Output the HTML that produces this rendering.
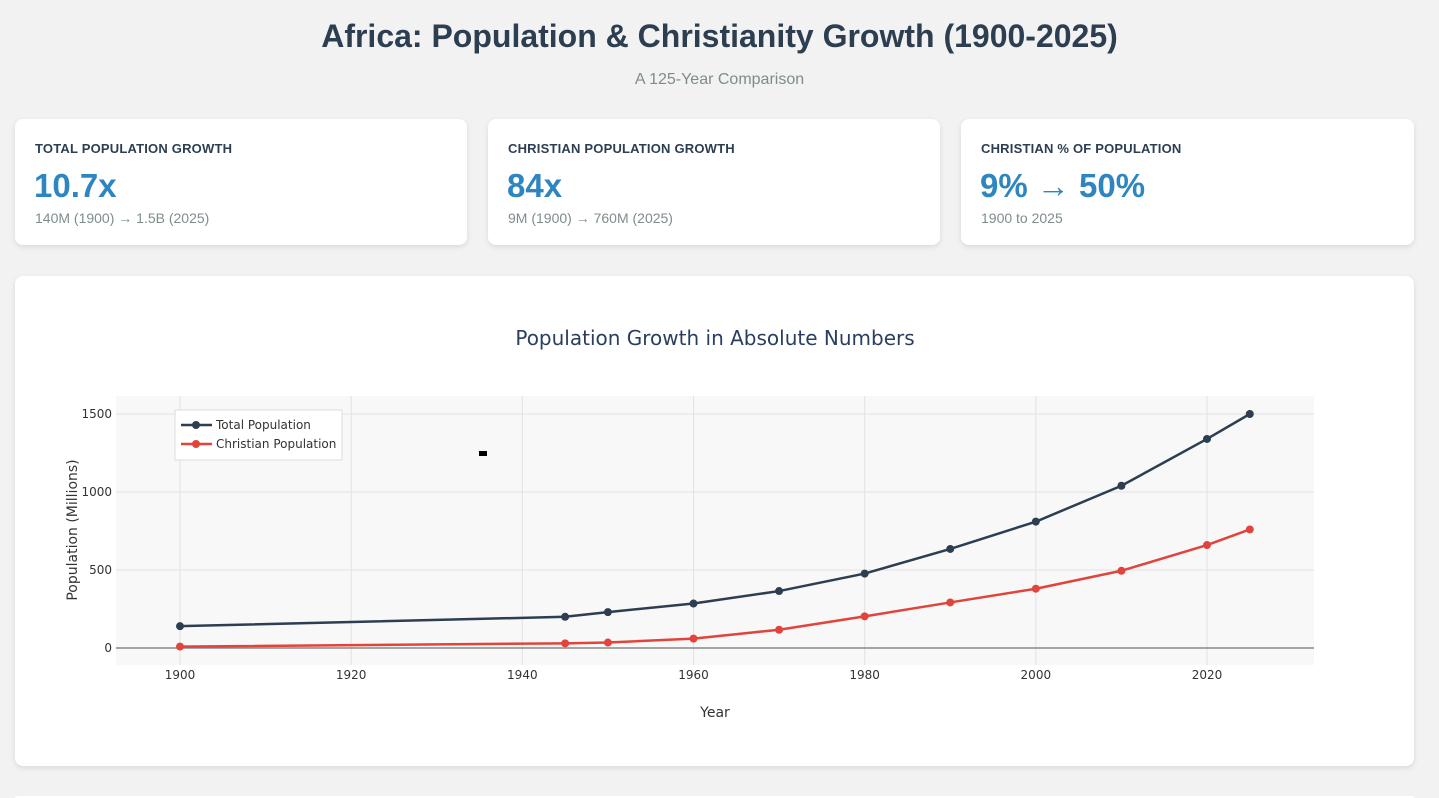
<!DOCTYPE html>
<html><head><meta charset="utf-8">
<style>
*{box-sizing:border-box;margin:0;padding:0}
html{overflow:hidden;width:1439px;height:798px}
body{width:1439px;height:798px;overflow:hidden;background:#f2f2f2;font-family:"Liberation Sans",sans-serif;color:#2c3e50;position:relative}
h1{position:absolute;top:18px;left:0;width:100%;text-align:center;font-size:32px;font-weight:bold;color:#2c3e50}
.sub{position:absolute;top:71px;left:0;width:100%;text-align:center;font-size:16px;color:#7f8c8d}
.card{position:absolute;top:119px;height:126px;background:#fff;border-radius:8px;box-shadow:0 2px 6px rgba(0,0,0,0.1);padding:0 20px}
.card .lbl{position:absolute;top:22px;left:20px;font-size:13px;font-weight:bold;color:#2c3e50;letter-spacing:0.2px}
.card .val{position:absolute;top:48px;left:19px;font-size:33px;font-weight:bold;color:#2e86c1}
.card .det{position:absolute;top:91px;left:20px;font-size:14px;color:#7f8c8d}
.chart{position:absolute;top:276px;left:15px;width:1399px;height:490px;background:#fff;border-radius:8px;box-shadow:0 2px 6px rgba(0,0,0,0.1)}
.next{position:absolute;top:796px;left:15px;width:1399px;height:2px;background:#fff;border-radius:8px 8px 0 0}
</style></head><body>
<h1>Africa: Population &amp; Christianity Growth (1900-2025)</h1>
<div class="sub">A 125-Year Comparison</div>
<div class="card" style="left:15px;width:452px">
<div class="lbl">TOTAL POPULATION GROWTH</div>
<div class="val">10.7x</div>
<div class="det">140M (1900) → 1.5B (2025)</div></div>
<div class="card" style="left:488px;width:452px">
<div class="lbl">CHRISTIAN POPULATION GROWTH</div>
<div class="val">84x</div>
<div class="det">9M (1900) → 760M (2025)</div></div>
<div class="card" style="left:961px;width:453px">
<div class="lbl">CHRISTIAN % OF POPULATION</div>
<div class="val">9% → 50%</div>
<div class="det">1900 to 2025</div></div>
<div class="chart"></div>
<div class="next"></div>
<svg id="svg" width="1439" height="798" style="position:absolute;left:0;top:0"></svg>
<script>
const years=[1900,1945,1950,1960,1970,1980,1990,2000,2010,2020,2025];
const totalPop=[140,200,230,285,365,477,635,810,1040,1340,1500];
const christianPop=[9,30,35,60,117,203,292,380,495,660,760];
const xTicks=[1900,1920,1940,1960,1980,2000,2020];
const yTicks=[0,500,1000,1500];
const NS="http://www.w3.org/2000/svg";
const svg=document.getElementById('svg');
const X=v=>180+(v-1900)*(1207-180)/120;
const Y=v=>648-v*(648-414)/1500;
function mk(t,a,p){const e=document.createElementNS(NS,t);for(const k in a)e.setAttribute(k,a[k]);(p||svg).appendChild(e);return e;}
let r=mk('rect',{x:116,y:396,width:1198,height:269,fill:'#f8f8f8'});


xTicks.forEach(t=>{
 let l=mk('line',{x1:X(t),x2:X(t),y1:396,y2:665,stroke:'#e2e2e2'});
 
 
 let tx=mk('text',{x:X(t),y:679,'text-anchor':'middle','font-size':12,fill:'#333','font-family':'DejaVu Sans'});
 tx.textContent=t;
 
 
});
yTicks.forEach(t=>{
 let l=mk('line',{x1:116,x2:1314,y1:Y(t),y2:Y(t),stroke:t===0?'#888':'#e2e2e2','stroke-width':t===0?1.5:1});
 
 
 let tx=mk('text',{x:112,y:Y(t)+4,'text-anchor':'end','font-size':12,fill:'#333','font-family':'DejaVu Sans'});
 tx.textContent=t;
 
 
});
function series(vals,color,name){
 let p=mk('polyline',{points:years.map((y,i)=>X(y)+','+Y(vals[i])).join(' '),fill:'none',stroke:color,'stroke-width':2.5});
 
 
 years.forEach((y,i)=>{
  let c=mk('circle',{cx:X(y),cy:Y(vals[i]),r:4,fill:color});
  
  
 });
}
series(totalPop,'#2c3e50','total-population');
series(christianPop,'#e0443a','christian-population');
let t=mk('text',{x:715,y:345,'text-anchor':'middle','font-size':20,fill:'#2a3f5f','font-family':'DejaVu Sans'});
t.textContent='Population Growth in Absolute Numbers';


t=mk('text',{x:715,y:717,'text-anchor':'middle','font-size':14,fill:'#333','font-family':'DejaVu Sans'});
t.textContent='Year';


t=mk('text',{x:77,y:530,'text-anchor':'middle','font-size':14,fill:'#333','font-family':'DejaVu Sans',transform:'rotate(-90 77 530)'});
t.textContent='Population (Millions)';


let lg=mk('g',{});


mk('rect',{x:175,y:410,width:167,height:50,fill:'#fff',stroke:'#ddd'},lg);
[['Total Population','#2c3e50'],['Christian Population','#e0443a']].forEach((s,i)=>{
 const yy=425+i*19;
 let e=mk('g',{},lg);
 
 
 mk('line',{x1:181,x2:212,y1:yy,y2:yy,stroke:s[1],'stroke-width':2.5},e);
 mk('circle',{cx:196,cy:yy,r:4,fill:s[1]},e);
 let tt=mk('text',{x:216,y:yy+4,'font-size':12,fill:'#333','font-family':'DejaVu Sans'},e);
 tt.textContent=s[0];
});
let m=mk('rect',{x:479,y:451,width:8,height:5,fill:'#000'});


</script>
</body></html>
